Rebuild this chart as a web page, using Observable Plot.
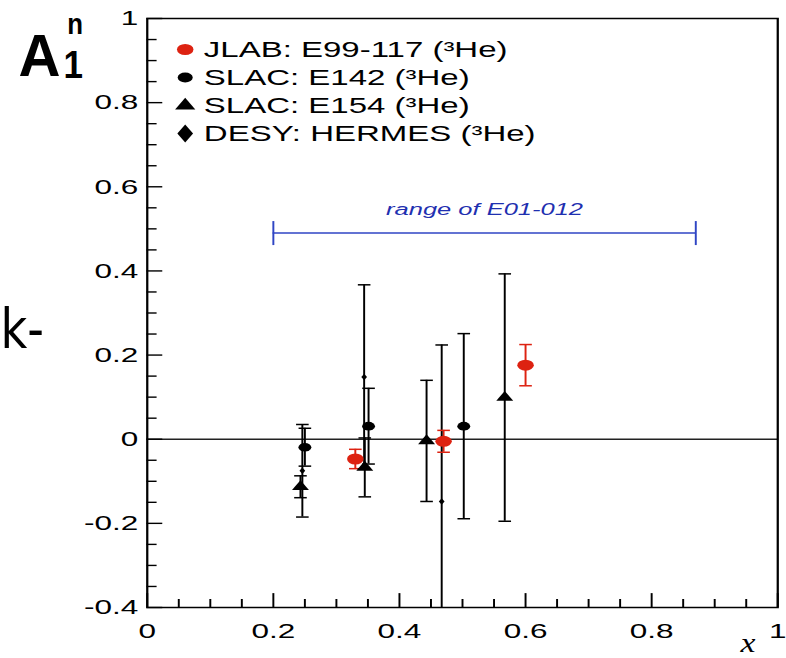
<!DOCTYPE html>
<html><head><meta charset="utf-8">
<script src="https://cdn.jsdelivr.net/npm/d3@7"></script>
<script src="https://cdn.jsdelivr.net/npm/@observablehq/plot@0.6"></script>
<style>
html,body{margin:0;padding:0;background:#fff;}
#chart{width:786px;height:658px;overflow:hidden;position:relative;}
#chart svg{display:block;transform:scaleX(1.5);transform-origin:0 0;}
</style></head><body><div id="chart"></div>
<script>
// ---- axis ticks & labels ----
const xTicks = [0, 0.2, 0.4, 0.6, 0.8, 1];
const xTickLabels = ["0", "0.2", "0.4", "0.6", "0.8", "1"];
const yTicks = [-0.4, -0.2, 0, 0.2, 0.4, 0.6, 0.8, 1];
const yTickLabels = ["-0.4", "-0.2", "0", "0.2", "0.4", "0.6", "0.8", "1"];

// ---- series ----
const seriesNames = ["JLAB: E99-117 (³He)", "SLAC: E142 (³He)", "SLAC: E154 (³He)", "DESY: HERMES (³He)"];
const seriesColors = ["#dd2211", "#000000", "#000000", "#000000"];
const seriesSymbols = ["circle", "circle", "triangle", "diamond"];

const jlabX = [0.33, 0.47, 0.60];
const jlabY = [-0.047, -0.005, 0.176];
const jlabErr = [0.023, 0.026, 0.049];

const e142X = [0.250, 0.351, 0.502];
const e142Y = [-0.019, 0.031, 0.031];
const e142Err = [0.045, 0.090, 0.220];

const e154X = [0.243, 0.345, 0.443, 0.567];
const e154Y = [-0.113, -0.067, -0.004, 0.099];
const e154Err = [0.026, 0.070, 0.144, 0.294];

const hermesX = [0.246, 0.344, 0.467];
const hermesY = [-0.075, 0.148, -0.148];
const hermesErr = [0.110, 0.219, 0.372];

// ---- annotation ----
const rangeX = [0.2, 0.87];
const rangeY = 0.49;
const rangeLabel = "range of E01-012";
const yTitle = ["A", "n", "1"];
const xTitle = "x";
const strayText = "k-";

// ---- build table ----
const rows = [];
function addSeries(name, xs, ys, es) { xs.forEach((x, i) => rows.push({series: name, x, y: ys[i], err: es[i]})); }
addSeries(seriesNames[0], jlabX, jlabY, jlabErr);
addSeries(seriesNames[1], e142X, e142Y, e142Err);
addSeries(seriesNames[2], e154X, e154Y, e154Err);
addSeries(seriesNames[3], hermesX, hermesY, hermesErr);

const xMinor = d3.range(0, 1.0001, 0.05).filter(v => !xTicks.some(t => Math.abs(t - v) < 1e-6));
const yMinor = d3.range(-0.4, 1.0001, 0.05).filter(v => !yTicks.some(t => Math.abs(t - v) < 1e-6));
const fmt = (ticks, labels) => d => labels[ticks.findIndex(t => Math.abs(t - d) < 1e-9)];

const hCap = {draw(ctx, size) { const w = Math.sqrt(size / Math.PI); ctx.moveTo(-w, 0); ctx.lineTo(w, 0); }};
const vCap = {draw(ctx, size) { const h = Math.sqrt(size / Math.PI); ctx.moveTo(0, -h); ctx.lineTo(0, h); }};

const W = 524, H = 658, ML = 97.67, MR = 6, MT = 18, MB = 51;
const font = "'Liberation Sans', Arial, Helvetica, sans-serif";
const blue = "#2f45c4";
const markerR = [5.5, 4.3, 4.2, 2];
const legendR = [5.5, 5, 5, 5.5];

const seriesMarks = seriesNames.map((name, i) =>
  Plot.dot(rows.filter(d => d.series === name), {x: "x", y: "y", symbol: seriesSymbols[i], r: markerR[i], fill: "series", stroke: "none"})
);
const legendMarks = seriesNames.flatMap((name, i) => [
  Plot.dot([name], {frameAnchor: "top-left", dx: 25.3, dy: 31 + 28 * i, symbol: seriesSymbols[i], r: legendR[i], fill: d => d, stroke: "none"}),
  Plot.text([name], {frameAnchor: "top-left", dx: 37.7, dy: 31 + 28 * i, text: d => d, textAnchor: "start", lineAnchor: "middle", fontSize: 22, fill: "#000"})
]);

// left x (in svg units) of the titles that are drawn narrower than the stretched canvas
const titleLeft = {"ytitle-A": 12, "ytitle-n": 44.5, "ytitle-1": 42, "xtitle": W - MR - 24.7, "stray": 0};

const chart = Plot.plot({
  width: W, height: H,
  marginLeft: ML, marginRight: MR, marginTop: MT, marginBottom: MB,
  style: {fontFamily: font, background: "#fff", overflow: "visible"},
  x: {domain: [0, 1], axis: null},
  y: {domain: [-0.4, 1], axis: null},
  color: {domain: seriesNames, range: seriesColors},
  marks: [
    Plot.ruleY([0], {stroke: "#222", strokeWidth: 1.6}),
    Plot.ruleY(yMinor, {y: d => d, x1: 0, x2: 0.016, stroke: "#000", strokeWidth: 1.4}),
    Plot.ruleY(yTicks, {y: d => d, x1: 0, x2: 0.025, stroke: "#000", strokeWidth: 1.4}),
    Plot.ruleX(xMinor, {x: d => d, y1: -0.4, y2: -0.4 + 0.019, stroke: "#000", strokeWidth: 1.3}),
    Plot.ruleX(xTicks, {x: d => d, y1: -0.4, y2: -0.4 + 0.033, stroke: "#000", strokeWidth: 1.3}),
    Plot.axisY({ticks: yTicks, tickSize: 0, tickPadding: 6, tickFormat: fmt(yTicks, yTickLabels), fontSize: 21, label: null}),
    Plot.axisX({ticks: xTicks, tickSize: 0, tickPadding: 16, tickFormat: fmt(xTicks, xTickLabels), fontSize: 21, label: null}),
    // range of E01-012
    Plot.ruleY([rangeY], {x1: rangeX[0], x2: rangeX[1], stroke: blue, strokeWidth: 1.5}),
    Plot.dot(rangeX, {x: d => d, y: rangeY, symbol: vCap, r: 12, stroke: blue, fill: "none", strokeWidth: 1.3}),
    Plot.text([rangeLabel], {x: d3.mean(rangeX), y: rangeY, dy: -24, text: d => d, fill: "#1f30b0", fontSize: 17, fontStyle: "italic"}),
    // error bars
    Plot.ruleX(rows, {x: "x", y1: d => d.y - d.err, y2: d => d.y + d.err, stroke: "series", strokeWidth: 1.3, clip: true}),
    Plot.dot(rows, {x: "x", y: d => d.y + d.err, symbol: hCap, r: 4.2, stroke: "series", fill: "none", strokeWidth: 1.5, clip: true}),
    Plot.dot(rows, {x: "x", y: d => d.y - d.err, symbol: hCap, r: 4.2, stroke: "series", fill: "none", strokeWidth: 1.5, clip: true}),
    ...seriesMarks.slice(1), seriesMarks[0],
    ...legendMarks,
    // axis titles
    Plot.text([yTitle[0]], {frameAnchor: "top-left", dx: titleLeft["ytitle-A"] - ML, dy: 75 - MT, text: d => d, textAnchor: "start", lineAnchor: "bottom", fontSize: 60, fontWeight: "bold", fill: "#000", ariaLabel: () => "ytitle-A"}),
    Plot.text([yTitle[1]], {frameAnchor: "top-left", dx: titleLeft["ytitle-n"] - ML, dy: 33 - MT, text: d => d, textAnchor: "start", lineAnchor: "bottom", fontSize: 30, fontWeight: "bold", fill: "#000", ariaLabel: () => "ytitle-n"}),
    Plot.text([yTitle[2]], {frameAnchor: "top-left", dx: titleLeft["ytitle-1"] - ML, dy: 77 - MT, text: d => d, textAnchor: "start", lineAnchor: "bottom", fontSize: 38, fontWeight: "bold", fill: "#000", ariaLabel: () => "ytitle-1"}),
    Plot.text([xTitle], {frameAnchor: "bottom-right", dx: -24.7, dy: 44, text: d => d, textAnchor: "start", lineAnchor: "bottom", fontSize: 27, fontStyle: "italic", fontFamily: "'Liberation Serif', 'Times New Roman', serif", fill: "#000", ariaLabel: () => "xtitle"}),
    Plot.text([strayText], {frameAnchor: "top-left", dx: -ML, dy: 347 - MT, text: d => d, textAnchor: "start", lineAnchor: "bottom", fontSize: 55, fontFamily: "'DejaVu Sans', sans-serif", fill: "#000", ariaLabel: () => "stray"}),
    Plot.frame({stroke: "#000", strokeWidth: 1.5})
  ]
});
chart.style.maxWidth = "none";
chart.style.height = H + "px";
document.getElementById("chart").appendChild(chart);

// the source image is a horizontally stretched square canvas; these glyphs were drawn narrower there
const targetWidth = {"ytitle-A": 28, "ytitle-n": 10.5, "ytitle-1": 13, "stray": 29, "xtitle": 10};
for (const [label, len] of Object.entries(targetWidth)) {
  chart.querySelectorAll(`text[aria-label="${label}"]`).forEach(t => {
    const natural = t.getComputedTextLength();
    if (!natural) return;
    const s = len / natural;
    const g = t.parentNode;
    const px = titleLeft[label];
    const prev = g.getAttribute("transform") || "";
    g.setAttribute("transform", `translate(${px},0) scale(${s},1) translate(${-px},0) ${prev}`);
  });
}
</script>
</body></html>
